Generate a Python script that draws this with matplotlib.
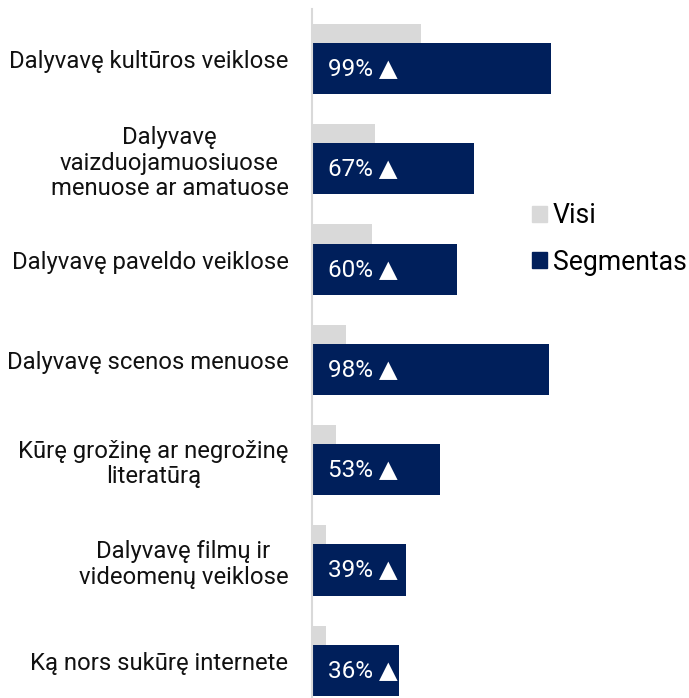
import matplotlib.pyplot as plt
from matplotlib.patches import Patch

plt.rcParams['font.family'] = ['Roboto', 'DejaVu Sans']

categories = [
    "Dalyvavę kultūros veiklose",
    "Dalyvavę\nvaizduojamuosiuose\nmenuose ar amatuose",
    "Dalyvavę paveldo veiklose",
    "Dalyvavę scenos menuose",
    "Kūrę grožinę ar negrožinę\nliteratūrą",
    "Dalyvavę filmų ir\nvideomenų veiklose",
    "Ką nors sukūrę internete",
]
visi = [45, 26, 25, 14, 10, 6, 6]
segmentas = [99, 67, 60, 98, 53, 39, 36]
bar_labels = ["99% ▲", "67% ▲", "60% ▲", "98% ▲", "53% ▲", "39% ▲", "36% ▲"]

navy = '#001f5b'
grey = '#d9d9d9'

fig = plt.figure(figsize=(6.89, 6.98), dpi=100)
ax = fig.add_axes([312 / 689, 1 / 698, 377 / 689, 688 / 698])

y = list(range(len(categories)))
ax.barh([i - 0.19 for i in y], visi, height=0.51, color=grey, zorder=1)
ax.barh(y, segmentas, height=0.51, color=navy, zorder=2)

for i, lab in enumerate(bar_labels):
    ax.annotate(lab, xy=(0, i), xytext=(11.5, 0), textcoords='offset points',
                ha='left', va='center', color='white', fontsize=17.5, zorder=3)

ax.set_xlim(0, 377 / 2.415)
ax.set_ylim(6.266, -0.593)

ax.set_yticks([i - 0.095 for i in y])
ax.set_yticklabels(categories, fontsize=17.2)
for lbl in ax.get_yticklabels():
    lbl.set_multialignment('center')
    lbl.set_linespacing(1.15)
ax.tick_params(axis='y', length=0, pad=17, colors='#111111')
ax.set_xticks([])

for s in ['top', 'right', 'bottom']:
    ax.spines[s].set_visible(False)
ax.spines['left'].set_color(grey)
ax.spines['left'].set_linewidth(1.5)

handles = [Patch(color=grey, label='Visi'), Patch(color=navy, label='Segmentas')]
fig.legend(handles=handles, loc='center left', bbox_to_anchor=(532 / 689, 1 - 239 / 698),
           frameon=False, fontsize=19.2, borderpad=0, borderaxespad=0,
           handlelength=0.56, handleheight=0.56, handletextpad=0.22, labelspacing=0.72)

fig.savefig('out.png', dpi=100)
